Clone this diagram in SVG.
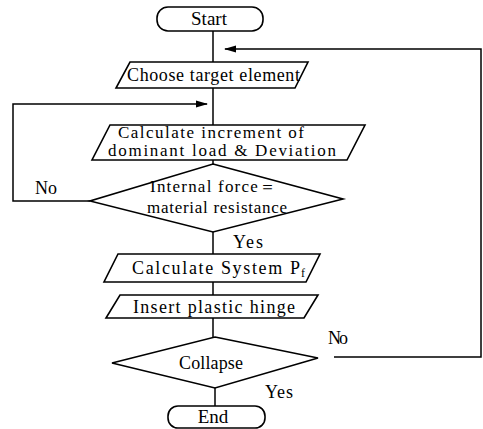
<svg xmlns="http://www.w3.org/2000/svg" width="483" height="429" viewBox="0 0 483 429">
<defs>
<style>
.s{fill:#fff;stroke:#000;stroke-width:1.6}
.c{fill:none;stroke:#000;stroke-width:1.5}
text{font-family:"Liberation Serif","Times New Roman",serif;font-size:18px;fill:#000}
.t{font-size:17px}
.m{text-anchor:middle}
</style>
<marker id="a" markerWidth="12" markerHeight="8" refX="11" refY="4" orient="auto" markerUnits="userSpaceOnUse">
<path d="M0,0.5 L12,4 L0,7.5 Z" fill="#000"/>
</marker>
</defs>
<g id="connectors">
<path class="c" d="M213,31 V62"/>
<path class="c" d="M213,88 V125"/>
<path class="c" d="M213,160 V164"/>
<path class="c" d="M213,232 V254"/>
<path class="c" d="M213,282 V295"/>
<path class="c" d="M213,318 V337"/>
<path class="c" d="M215,388 V407"/>
<path class="c" d="M90,201 H13 V104 H207" marker-end="url(#a)"/>
<path class="c" d="M334,357 H481 V49 H225" marker-end="url(#a)"/>
<text x="35" y="194" textLength="22">No</text>
<text x="233" y="248" textLength="30">Yes</text>
<text x="328" y="344" textLength="20">No</text>
<text x="265" y="398" textLength="28">Yes</text>
</g>
<g id="start">
<rect class="s" x="157" y="7" width="106" height="24" rx="11"/>
<text class="m" x="209" y="25" style="font-size:19px">Start</text>
</g>
<g id="choose">
<polygon class="s" points="130,62 308,62 295,88 116,88"/>
<text x="127" y="81" textLength="173">Choose target element</text>
</g>
<g id="calc-inc">
<polygon class="s" points="110,125 365,125 347,160 92,160"/>
<text class="t" x="118" y="138" textLength="186">Calculate increment of</text>
<text class="t" x="108" y="156" textLength="228">dominant load &amp; Deviation</text>
</g>
<g id="internal">
<polygon class="s" points="213,164 343,199 213,232 90,201"/>
<text class="t" x="150" y="192" textLength="126">Internal force＝</text>
<text class="t" x="147" y="213" textLength="140">material resistance</text>
</g>
<g id="system">
<polygon class="s" points="118,254 320,254 306,282 104,282"/>
<text x="132" y="274" textLength="168">Calculate System P</text>
<text x="301" y="277" style="font-size:12px">f</text>
</g>
<g id="hinge">
<polygon class="s" points="120,295 318,295 304,318 106,318"/>
<text x="133" y="313" textLength="162">Insert plastic hinge</text>
</g>
<g id="collapse">
<polygon class="s" points="215,337 318,358 215,388 112,363"/>
<text x="179" y="369" textLength="64">Collapse</text>
</g>
<g id="end">
<rect class="s" x="168" y="406" width="97" height="22" rx="10"/>
<text class="m" x="213" y="423" style="font-size:19px">End</text>
</g>
</svg>
